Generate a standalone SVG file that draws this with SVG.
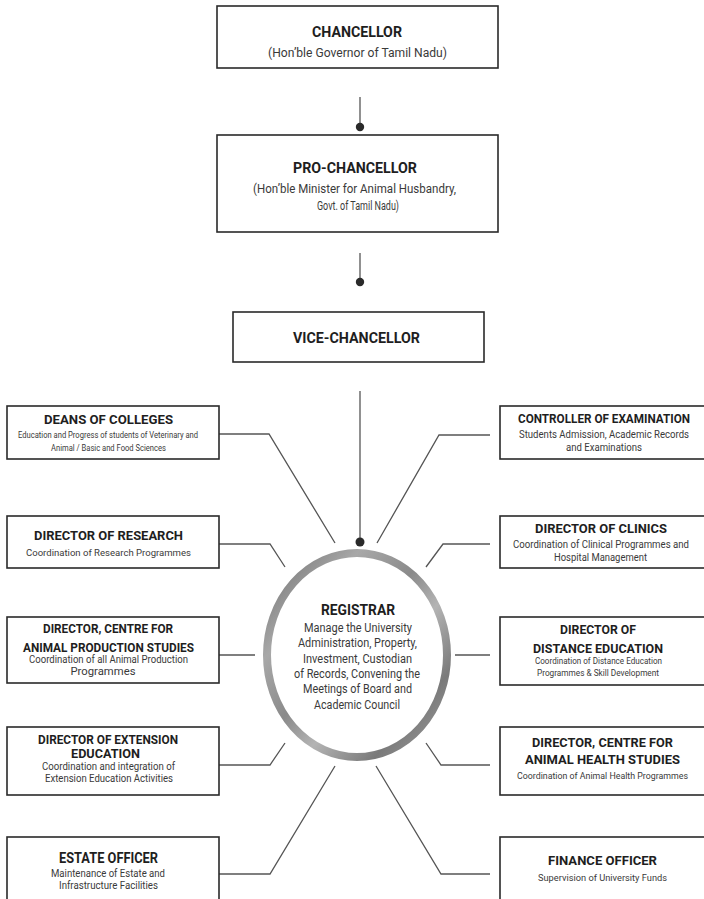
<svg xmlns="http://www.w3.org/2000/svg" width="704" height="899" viewBox="0 0 704 899">
<defs>
<style>
.box{fill:#fff;stroke:#2a2a2a;stroke-width:1.6}
.ln{fill:none;stroke:#555;stroke-width:1.3}
.dot{fill:#2a2a2a}
text{font-family:Roboto,"Liberation Sans",sans-serif;text-anchor:middle}
.t{font-weight:700;fill:#1e1e1e}
.s{font-weight:400;fill:#3a3a3a}
</style>
<linearGradient id="ring" x1="0" y1="0" x2="1" y2="1">
<stop offset="0" stop-color="#6e6e6e"/>
<stop offset="0.25" stop-color="#a8a8a8"/>
<stop offset="0.45" stop-color="#8a8a8a"/>
<stop offset="0.6" stop-color="#b4b4b4"/>
<stop offset="0.8" stop-color="#7a7a7a"/>
<stop offset="1" stop-color="#a0a0a0"/>
</linearGradient>
</defs>
<g id="connectors">
<line class="ln" x1="360" y1="97" x2="360" y2="127"/>
<circle class="dot" cx="360" cy="127" r="4.2"/>
<line class="ln" x1="360" y1="253" x2="360" y2="282"/>
<circle class="dot" cx="360" cy="282" r="4.2"/>
<line class="ln" x1="360" y1="391" x2="360" y2="542"/>
<circle class="dot" cx="360" cy="542" r="4.5"/>
<polyline class="ln" points="219,434 269,434 335,543"/>
<polyline class="ln" points="219,544 270,544 285,567"/>
<polyline class="ln" points="219,655 255,655"/>
<polyline class="ln" points="219,765 270,765 285,743"/>
<polyline class="ln" points="219,874 270,874 335,766"/>
<polyline class="ln" points="490,435 439,435 377,543"/>
<polyline class="ln" points="490,544 443,544 426,567"/>
<polyline class="ln" points="455,655 490,655"/>
<polyline class="ln" points="490,765 441,765 426,743"/>
<polyline class="ln" points="490,874 441,874 376,766"/>
</g>
<g id="chancellor">
<rect class="box" x="217" y="6" width="281" height="62"/>
<text class="t" x="357" y="37" font-size="15" textLength="90" lengthAdjust="spacingAndGlyphs">CHANCELLOR</text>
<text class="s" x="357.5" y="57" font-size="12.5" textLength="179" lengthAdjust="spacingAndGlyphs">(Hon’ble Governor of Tamil Nadu)</text>
</g>
<g id="pro-chancellor">
<rect class="box" x="217" y="135" width="281" height="97"/>
<text class="t" x="355" y="173" font-size="15" textLength="124" lengthAdjust="spacingAndGlyphs">PRO-CHANCELLOR</text>
<text class="s" x="354.5" y="193" font-size="12.5" textLength="203" lengthAdjust="spacingAndGlyphs">(Hon’ble Minister for Animal Husbandry,</text>
<text class="s" x="358" y="210" font-size="12.5" textLength="82" lengthAdjust="spacingAndGlyphs">Govt. of Tamil Nadu)</text>
</g>
<g id="vice-chancellor">
<rect class="box" x="233" y="312" width="251" height="50"/>
<text class="t" x="356.5" y="343" font-size="15" textLength="127" lengthAdjust="spacingAndGlyphs">VICE-CHANCELLOR</text>
</g>
<g id="registrar">
<ellipse cx="357" cy="655" rx="90" ry="102" fill="#fff" stroke="url(#ring)" stroke-width="8"/>
<text class="t" x="358" y="615" font-size="14" textLength="74" lengthAdjust="spacingAndGlyphs">REGISTRAR</text>
<text class="s" x="358" y="632" font-size="12" textLength="108" lengthAdjust="spacingAndGlyphs">Manage the University</text>
<text class="s" x="357.5" y="647" font-size="12" textLength="119" lengthAdjust="spacingAndGlyphs">Administration, Property,</text>
<text class="s" x="357.5" y="663" font-size="12" textLength="109" lengthAdjust="spacingAndGlyphs">Investment, Custodian</text>
<text class="s" x="357" y="678" font-size="12" textLength="126" lengthAdjust="spacingAndGlyphs">of Records, Convening the</text>
<text class="s" x="357.5" y="693" font-size="12" textLength="109" lengthAdjust="spacingAndGlyphs">Meetings of Board and</text>
<text class="s" x="357" y="709" font-size="12" textLength="86" lengthAdjust="spacingAndGlyphs">Academic Council</text>
</g>
<g id="deans">
<rect class="box" x="7" y="406" width="212" height="53"/>
<text class="t" x="108.5" y="424" font-size="13" textLength="129" lengthAdjust="spacingAndGlyphs">DEANS OF COLLEGES</text>
<text class="s" x="108" y="438" font-size="8.5" textLength="180" lengthAdjust="spacingAndGlyphs">Education and Progress of students of Veterinary and</text>
<text class="s" x="108.5" y="451" font-size="8.5" textLength="115" lengthAdjust="spacingAndGlyphs">Animal / Basic and Food Sciences</text>
</g>
<g id="research">
<rect class="box" x="7" y="516" width="212" height="52"/>
<text class="t" x="108.5" y="540" font-size="13" textLength="149" lengthAdjust="spacingAndGlyphs">DIRECTOR OF RESEARCH</text>
<text class="s" x="108.5" y="556" font-size="9.5" textLength="165" lengthAdjust="spacingAndGlyphs">Coordination of Research Programmes</text>
</g>
<g id="animal-production">
<rect class="box" x="7" y="617" width="212" height="66"/>
<text class="t" x="108" y="633" font-size="12.5" textLength="130" lengthAdjust="spacingAndGlyphs">DIRECTOR, CENTRE FOR</text>
<text class="t" x="108.5" y="652" font-size="12.5" textLength="171" lengthAdjust="spacingAndGlyphs">ANIMAL PRODUCTION STUDIES</text>
<text class="s" x="108.5" y="663" font-size="10" textLength="159" lengthAdjust="spacingAndGlyphs">Coordination of all Animal Production</text>
<text class="s" x="103" y="675" font-size="10" textLength="65" lengthAdjust="spacingAndGlyphs">Programmes</text>
</g>
<g id="extension">
<rect class="box" x="7" y="727" width="212" height="68"/>
<text class="t" x="108" y="744" font-size="12.5" textLength="140" lengthAdjust="spacingAndGlyphs">DIRECTOR OF EXTENSION</text>
<text class="t" x="105.5" y="758" font-size="12.5" textLength="69" lengthAdjust="spacingAndGlyphs">EDUCATION</text>
<text class="s" x="108.5" y="770" font-size="10" textLength="133" lengthAdjust="spacingAndGlyphs">Coordination and integration of</text>
<text class="s" x="109" y="782" font-size="10" textLength="128" lengthAdjust="spacingAndGlyphs">Extension Education Activities</text>
</g>
<g id="estate">
<rect class="box" x="7" y="837" width="212" height="80"/>
<text class="t" x="108.5" y="863" font-size="14" textLength="99" lengthAdjust="spacingAndGlyphs">ESTATE OFFICER</text>
<text class="s" x="108" y="877" font-size="10" textLength="114" lengthAdjust="spacingAndGlyphs">Maintenance of Estate and</text>
<text class="s" x="108.5" y="889" font-size="10" textLength="99" lengthAdjust="spacingAndGlyphs">Infrastructure Facilities</text>
</g>
<g id="controller">
<rect class="box" x="500" y="406" width="215" height="53"/>
<text class="t" x="604" y="423" font-size="13" textLength="172" lengthAdjust="spacingAndGlyphs">CONTROLLER OF EXAMINATION</text>
<text class="s" x="604" y="438" font-size="10" textLength="170" lengthAdjust="spacingAndGlyphs">Students Admission, Academic Records</text>
<text class="s" x="604" y="451" font-size="10" textLength="76" lengthAdjust="spacingAndGlyphs">and Examinations</text>
</g>
<g id="clinics">
<rect class="box" x="500" y="516" width="215" height="52"/>
<text class="t" x="601" y="533" font-size="13" textLength="132" lengthAdjust="spacingAndGlyphs">DIRECTOR OF CLINICS</text>
<text class="s" x="601" y="548" font-size="10" textLength="176" lengthAdjust="spacingAndGlyphs">Coordination of Clinical Programmes and</text>
<text class="s" x="600.5" y="561" font-size="10" textLength="93" lengthAdjust="spacingAndGlyphs">Hospital Management</text>
</g>
<g id="distance">
<rect class="box" x="500" y="617" width="215" height="68"/>
<text class="t" x="598" y="634" font-size="12.5" textLength="76" lengthAdjust="spacingAndGlyphs">DIRECTOR OF</text>
<text class="t" x="598" y="653" font-size="12.5" textLength="130" lengthAdjust="spacingAndGlyphs">DISTANCE EDUCATION</text>
<text class="s" x="598.5" y="664" font-size="8.5" textLength="127" lengthAdjust="spacingAndGlyphs">Coordination of Distance Education</text>
<text class="s" x="598" y="676" font-size="8.5" textLength="122" lengthAdjust="spacingAndGlyphs">Programmes &amp; Skill Development</text>
</g>
<g id="animal-health">
<rect class="box" x="500" y="727" width="215" height="68"/>
<text class="t" x="602.5" y="747" font-size="13" textLength="141" lengthAdjust="spacingAndGlyphs">DIRECTOR, CENTRE FOR</text>
<text class="t" x="602.5" y="764" font-size="13" textLength="155" lengthAdjust="spacingAndGlyphs">ANIMAL HEALTH STUDIES</text>
<text class="s" x="602.5" y="779" font-size="8.5" textLength="171" lengthAdjust="spacingAndGlyphs">Coordination of Animal Health Programmes</text>
</g>
<g id="finance">
<rect class="box" x="500" y="837" width="215" height="80"/>
<text class="t" x="602.5" y="865" font-size="13" textLength="109" lengthAdjust="spacingAndGlyphs">FINANCE OFFICER</text>
<text class="s" x="602.5" y="881" font-size="9" textLength="129" lengthAdjust="spacingAndGlyphs">Supervision of University Funds</text>
</g>
</svg>
